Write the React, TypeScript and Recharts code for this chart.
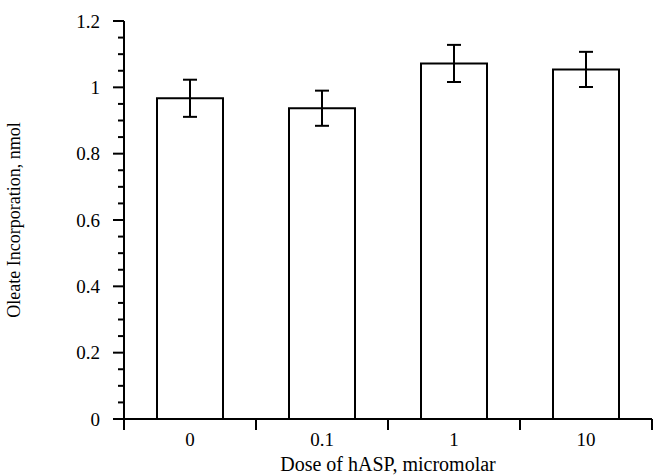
import { BarChart, Bar, XAxis, YAxis, ErrorBar, Label } from "recharts";

document.body.style.margin = "0";

const doses = ["0", "0.1", "1", "10"];
const oleate = [0.967, 0.937, 1.072, 1.054];
const oleateErr = [0.056, 0.053, 0.056, 0.053];
const majorTicks = [0, 0.2, 0.4, 0.6, 0.8, 1, 1.2];
const minorTicks = [
  0, 0.05, 0.1, 0.15, 0.2, 0.25, 0.3, 0.35, 0.4, 0.45, 0.5, 0.55, 0.6, 0.65,
  0.7, 0.75, 0.8, 0.85, 0.9, 0.95, 1, 1.05, 1.1, 1.15, 1.2,
];

const data = doses.map((dose, i) => ({
  dose,
  oleate: oleate[i],
  err: oleateErr[i],
}));

const FONT = "'Liberation Serif', 'Times New Roman', serif";

function YTick(props: any) {
  const { x, y, payload } = props;
  const major = majorTicks.some((t) => Math.abs(t - payload.value) < 1e-6);
  return (
    <g>
      <line x1={x - (major ? 11 : 6)} x2={x} y1={y} y2={y} stroke="#000" strokeWidth={2} />
      {major && (
        <text
          x={x - 24}
          y={y}
          dy="0.35em"
          textAnchor="end"
          fontFamily={FONT}
          fontSize={19}
          fill="#000"
        >
          {payload.value}
        </text>
      )}
    </g>
  );
}

// category label in the middle, tick marks on the band edges
function XTick(props: any) {
  const { x, y, payload, index } = props;
  const half = payload.offset || 0;
  const last = index === doses.length - 1;
  return (
    <g>
      <line x1={x - half} x2={x - half} y1={y} y2={y + 11} stroke="#000" strokeWidth={2} />
      {last && (
        <line x1={x + half} x2={x + half} y1={y} y2={y + 11} stroke="#000" strokeWidth={2} />
      )}
      <text
        x={x}
        y={y + 14}
        dy="0.71em"
        textAnchor="middle"
        fontFamily={FONT}
        fontSize={19}
        fill="#000"
      >
        {payload.value}
      </text>
    </g>
  );
}

export default function App() {
  return (
    <div style={{ width: 653, height: 476, background: "#fff" }}>
      <BarChart
        width={653}
        height={476}
        data={data}
        margin={{ top: 21, right: 1, bottom: 0, left: 0 }}
        barCategoryGap="25%"
      >
        <XAxis
          dataKey="dose"
          height={57}
          tickLine={false}
          tickSize={0}
          tickMargin={0}
          interval={0}
          axisLine={{ stroke: "#000", strokeWidth: 2 }}
          tick={<XTick />}
        >
          <Label
            value="Dose of hASP, micromolar"
            position="insideBottom"
            offset={5}
            style={{ fill: "#000", fontSize: 20, fontFamily: FONT }}
          />
        </XAxis>
        <YAxis
          domain={[0, 1.2]}
          ticks={minorTicks}
          interval={0}
          width={124}
          tickSize={0}
          tickMargin={0}
          tickLine={false}
          axisLine={{ stroke: "#000", strokeWidth: 2 }}
          tick={<YTick />}
        >
          <Label
            value="Oleate Incorporation, nmol"
            angle={-90}
            position="insideLeft"
            offset={14}
            style={{ fill: "#000", fontSize: 18, fontFamily: FONT, textAnchor: "middle" }}
          />
        </YAxis>
        <Bar
          dataKey="oleate"
          fill="#fff"
          stroke="#000"
          strokeWidth={2}
          isAnimationActive={false}
        >
          <ErrorBar dataKey="err" width={7} stroke="#000" strokeWidth={2} />
        </Bar>
      </BarChart>
    </div>
  );
}
